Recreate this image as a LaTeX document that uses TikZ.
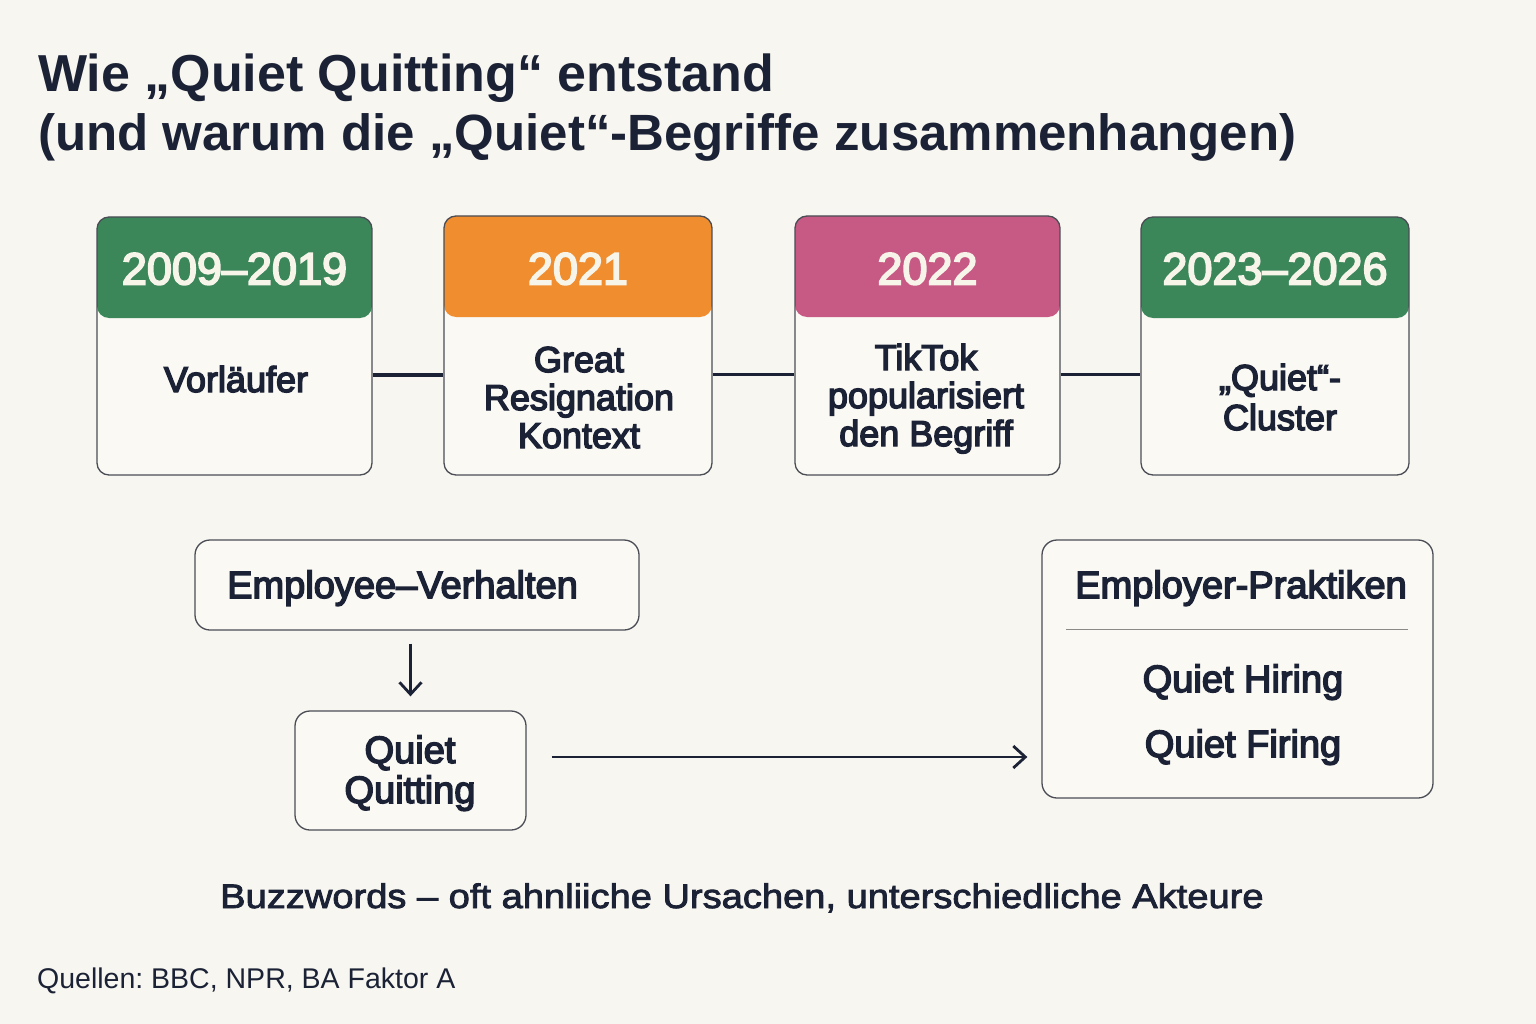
\documentclass[tikz,border=0pt]{standalone}
\usepackage{fontspec}
\setmainfont{Liberation Sans}
\newfontfamily\semib[FakeBold=4]{Liberation Sans}
\newfontfamily\buzzf[FakeBold=2.5,FakeStretch=1.12]{Liberation Sans}
\usetikzlibrary{arrows.meta,calc}
\definecolor{bg}{HTML}{F8F6F0}
\definecolor{navy}{HTML}{1B2235}
\definecolor{gr}{HTML}{3B8759}
\definecolor{orng}{HTML}{F08E2F}
\definecolor{pinkc}{HTML}{C65A84}
\definecolor{boxfill}{HTML}{FAF9F4}
\definecolor{bordc}{HTML}{4A4D55}
\definecolor{hdrtext}{HTML}{F7F4EA}
\definecolor{divc}{HTML}{8A8A88}
\tikzset{
  card/.style={draw=bordc, line width=1.3pt, fill=boxfill, rounded corners=12pt, inner sep=0pt},
  hdrfill/.style={path picture={\fill[#1] (path picture bounding box.north west) rectangle ([yshift=-101pt]path picture bounding box.north east);}},
  yeartxt/.style={text=hdrtext, font=\semib\fontsize{45}{50}\selectfont, anchor=base, inner sep=0pt},
  bodytxt/.style={text=navy, font=\semib\fontsize{36}{38}\selectfont, align=center, anchor=base, inner sep=0pt},
  bigtxt/.style={text=navy, font=\semib\fontsize{38}{40}\selectfont, align=center, anchor=base, inner sep=0pt},
  conn/.style={draw=navy, line width=3.5pt},
  arr/.style={draw=navy, line width=2.8pt, -{Straight Barb[length=12pt,width=22pt,line width=2.8pt]}},
  titletxt/.style={text=navy, font=\bfseries\fontsize{52}{60}\selectfont, anchor=base west, inner sep=0pt}
}
\begin{document}
\frenchspacing
\begin{tikzpicture}[x=1pt,y=-1pt]
\fill[bg] (0,0) rectangle (1536,1024);
\useasboundingbox (0,0) rectangle (1536,1024);

% title
\node[titletxt] (t1) at (38,92) {Wie „Quiet Quitting“ entstand};
\node[titletxt, font=\bfseries\fontsize{51}{60}\selectfont] (t2) at (38,151) {(und warum die „Quiet“-Begriffe zusammenhangen)};

% timeline cards
\node[card, minimum width=275pt, minimum height=258pt, hdrfill=gr] (b1) at (234.5,346) {};
\node[card, minimum width=268pt, minimum height=259pt, hdrfill=orng] (b2) at (578,345.5) {};
\node[card, minimum width=265pt, minimum height=259pt, hdrfill=pinkc] (b3) at (927.5,345.5) {};
\node[card, minimum width=268pt, minimum height=258pt, hdrfill=gr] (b4) at (1275,346) {};

\node[yeartxt] (y1) at ([yshift=-68pt]b1.north) {2009–2019};
\node[yeartxt] (y2) at ([yshift=-69pt]b2.north) {2021};
\node[yeartxt] (y3) at ([yshift=-69pt]b3.north) {2022};
\node[yeartxt] (y4) at ([yshift=-68pt]b4.north) {2023–2026};

\node[bodytxt] (x1) at (236,392) {Vorläufer};
\node[bodytxt] (x2) at (579,448) {Great\\Resignation\\Kontext};
\node[bodytxt] (x3) at (926,446) {TikTok\\popularisiert\\den Begriff};
\node[bodytxt, font=\semib\fontsize{36}{40}\selectfont] (x4) at (1280,430) {„Quiet“-\\Cluster};

\draw[conn] ([yshift=-29pt]b1.east) -- ([yshift=-29pt]b1.east -| b2.west);
\draw[conn] ([yshift=-29pt]b2.east) -- ([yshift=-29pt]b2.east -| b3.west);
\draw[conn] ([yshift=-29pt]b3.east) -- ([yshift=-29pt]b3.east -| b4.west);

% lower part
\node[card, rounded corners=15pt, minimum width=444pt, minimum height=90pt] (emp) at (417,585) {};
\node[bigtxt, anchor=base west] (empt) at (227,598) {Employee–Verhalten};
\node[card, rounded corners=15pt, minimum width=231pt, minimum height=119pt] (qq) at (410.5,770.5) {};
\node[bigtxt, font=\semib\fontsize{38}{40}\selectfont] (qqt) at (410,803) {Quiet\\Quitting};
\node[card, rounded corners=15pt, minimum width=391pt, minimum height=258pt] (er) at (1237.5,669) {};
\node[bigtxt] (ert) at (1241,598) {Employer-Praktiken};
\draw[draw=divc, line width=1.3pt] ([xshift=25pt,yshift=-90pt]er.north west) -- ([xshift=-26pt,yshift=-90pt]er.north east);
\node[bigtxt] (qh) at (1243,692) {Quiet Hiring};
\node[bigtxt] (qf) at (1243,757) {Quiet Firing};

\draw[arr] ([yshift=-13pt]emp.south -| qq.north) -- ([yshift=14pt]qq.north);
\draw[arr] ([xshift=25pt,yshift=13.5pt]qq.east) -- ([xshift=-14pt,yshift=13.5pt]qq.east -| er.west);

% footer
\node[text=navy, font=\buzzf\fontsize{34}{38}\selectfont, anchor=base west, inner sep=0pt] (buzz) at (220,908) {Buzzwords – oft ahnliiche Ursachen, unterschiedliche Akteure};
\node[text=navy, font=\fontsize{28.5}{32}\selectfont, anchor=base west, inner sep=0pt] (src) at (37,988) {Quellen: BBC, NPR, BA Faktor A};
\end{tikzpicture}
\end{document}
